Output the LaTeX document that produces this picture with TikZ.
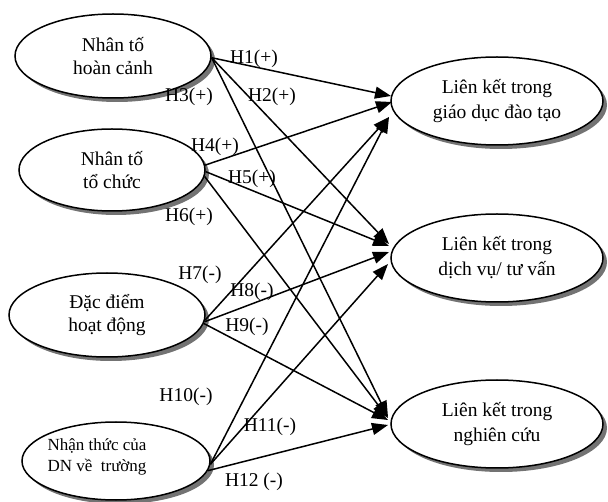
\documentclass[tikz,border=0pt]{standalone}
\usepackage{fontspec}
\setmainfont{Liberation Serif}
\usetikzlibrary{shapes.geometric,arrows.meta}
\definecolor{shadowgray}{RGB}{115,115,115}
\begin{document}
\begin{tikzpicture}[x=1pt,y=-1pt,
  ell/.style={ellipse,draw,line width=1.5pt,fill=white,inner sep=0pt,align=center,
    font=\fontsize{19.5}{22.5}\selectfont},
  rell/.style={ell,minimum width=212pt,minimum height=88pt,font=\fontsize{19.5}{25}\selectfont},
  backshadow/.style={ellipse,fill=shadowgray,draw=none,inner sep=0pt},
  conn/.style={line width=1.5pt,-{Triangle[length=16pt,width=12pt]}},
  lab/.style={font=\fontsize{19.5}{22}\selectfont,inner sep=0pt}]
\useasboundingbox (0,0) rectangle (608,502);
% shadows
\node[backshadow,minimum width=196pt,minimum height=84pt] (As) at (117,60) {};
\node[backshadow,minimum width=186pt,minimum height=82pt] (Bs) at (116,174) {};
\node[backshadow,minimum width=196pt,minimum height=84pt] (Cs) at (111,319) {};
\node[backshadow,minimum width=188pt,minimum height=78pt] (Ds) at (120,465) {};
\node[backshadow,minimum width=212pt,minimum height=88pt] (Es) at (501,105) {};
\node[backshadow,minimum width=212pt,minimum height=88pt] (Fs) at (501,262) {};
\node[backshadow,minimum width=212pt,minimum height=88pt] (Gs) at (501,428) {};
% left ellipses
\node[ell,minimum width=196pt,minimum height=84pt] (A) at (113,56) {Nhân tố\\hoàn cảnh};
\node[ell,minimum width=186pt,minimum height=82pt] (B) at (112,170) {Nhân tố\\tổ chức};
\node[ell,minimum width=196pt,minimum height=84pt] (C) at (107,315) {Đặc điểm\\hoạt động};
\node[ell,minimum width=188pt,minimum height=78pt] (D) at (116,461) {};
\node[font=\fontsize{17}{21}\selectfont,align=left,inner sep=0pt] (Dtext) at (97,457) {Nhận thức của\\DN về~~trường};
% right ellipses
\node[rell] (E) at (497,101) {Liên kết trong\\giáo dục đào tạo};
\node[rell] (F) at (497,258) {Liên kết trong\\dịch vụ/ tư vấn};
\node[rell] (G) at (497,424) {Liên kết trong\\nghiên cứu};
% arrow tips
\coordinate (e1) at (391,96);
\coordinate (e2) at (392,102);
\coordinate (e3) at (389,117);
\coordinate (f1) at (389,244);
\coordinate (f2) at (389,246);
\coordinate (f3) at (389,252);
\coordinate (f4) at (388,264);
\coordinate (g1) at (388,417);
\coordinate (g2) at (388,418);
\coordinate (g3) at (388,420);
\coordinate (g4) at (388,425);
% connectors
\draw[conn] (A.-1) -- (e1);
\draw[conn] (A.-1) -- (f1);
\draw[conn] (A.-1) -- (g1);
\draw[conn] (B.3) -- (e2);
\draw[conn] (B.-1) -- (f2);
\draw[conn] (B.-4) -- (g2);
\draw[conn] (C.-3) -- (e3);
\draw[conn] (C.-4) -- (f3);
\draw[conn] (C.-5) -- (g3);
\draw[conn] (D.-2) -- (e3);
\draw[conn] (D.-2) -- (f4);
\draw[conn] (D.-6) -- (g4);
% labels
\node[lab] (l1) at (254,59) {H1(+)};
\node[lab] (l3) at (189,97) {H3(+)};
\node[lab] (l2) at (272,97) {H2(+)};
\node[lab] (l4) at (215,147) {H4(+)};
\node[lab] (l5) at (252,179) {H5(+)};
\node[lab] (l6) at (189,217) {H6(+)};
\node[lab] (l7) at (200,275) {H7(-)};
\node[lab] (l8) at (252,292) {H8(-)};
\node[lab] (l9) at (247,327) {H9(-)};
\node[lab] (l10) at (186,397) {H10(-)};
\node[lab] (l11) at (270,427) {H11(-)};
\node[lab] (l12) at (254,482) {H12 (-)};
\end{tikzpicture}
\end{document}
